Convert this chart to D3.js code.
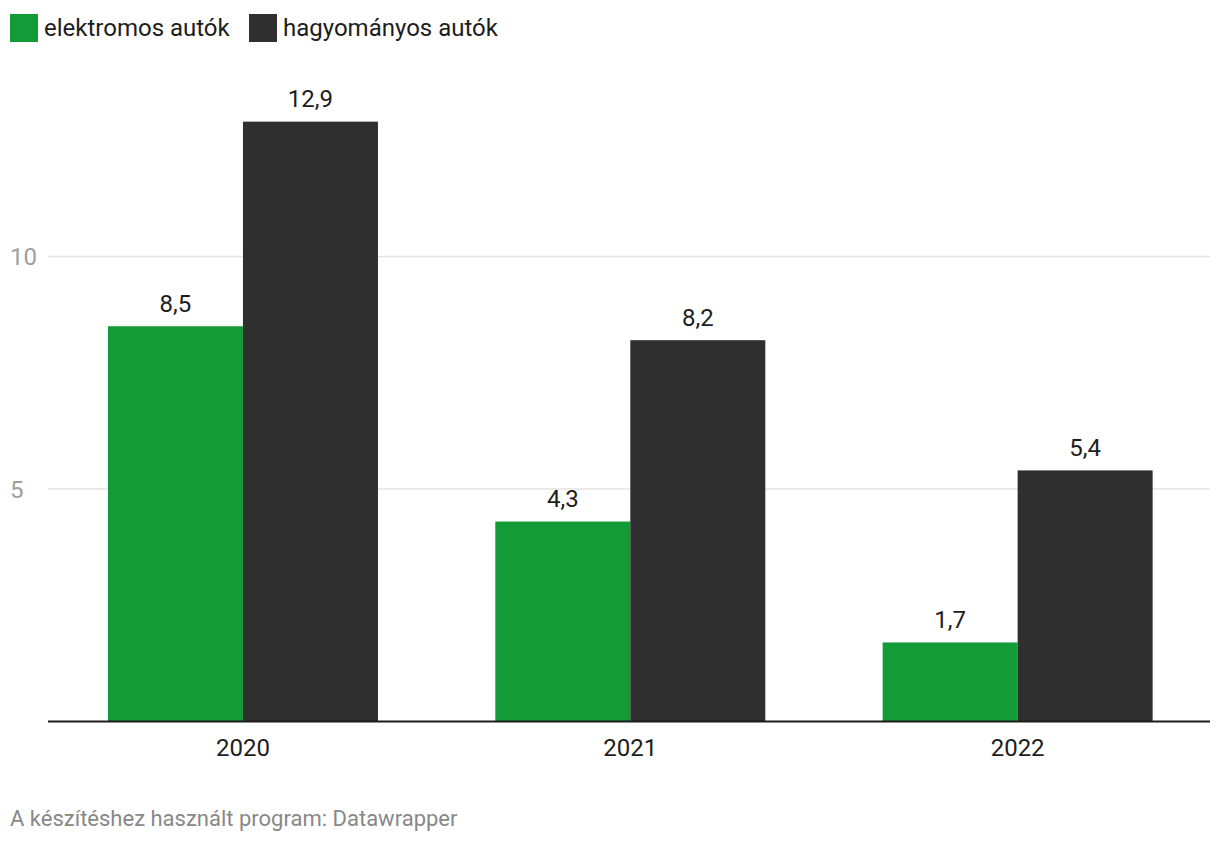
<!DOCTYPE html>
<html>
<head>
<meta charset="utf-8">
<script src="https://cdn.jsdelivr.net/npm/d3@7"></script>
<style>
  body { margin: 0; background: #fff; font-family: Roboto, sans-serif; }
</style>
</head>
<body>
<div id="chart"></div>
<script>
// data
var years = ["2020", "2021", "2022"];
var seriesNames = ["elektromos autók", "hagyományos autók"];
var electric = [8.5, 4.3, 1.7];
var conventional = [12.9, 8.2, 5.4];
var yTicks = [5, 10];
var colors = ["#129b36", "#2f2f2f"];
var footer = "A készítéshez használt program: Datawrapper";

var width = 1220, height = 844;
var left = 48, right = 1210, zeroY = 721.5, pxPerUnit = 46.5;

var svg = d3.select("#chart").append("svg")
    .attr("width", width)
    .attr("height", height);

var x0 = d3.scaleBand()
    .domain(years)
    .range([left + 1.3, right + 1.3]);

var x1 = d3.scaleBand()
    .domain([0, 1])
    .range([x0.bandwidth() / 2 - 135, x0.bandwidth() / 2 + 135]);

var y = d3.scaleLinear()
    .domain([0, 10])
    .range([zeroY, zeroY - 10 * pxPerUnit]);

// gridlines
var grid = svg.append("g");
grid.selectAll("line")
    .data(yTicks)
  .enter().append("line")
    .attr("x1", left)
    .attr("x2", right)
    .attr("y1", function(d){ return y(d); })
    .attr("y2", function(d){ return y(d); })
    .attr("stroke", "#e3e3e3")
    .attr("stroke-width", 1.5);

grid.selectAll("text")
    .data(yTicks)
  .enter().append("text")
    .attr("x", 10)
    .attr("y", function(d){ return y(d) + 8.5; })
    .attr("fill", "#a0a0a0")
    .attr("font-size", 24)
    .text(function(d){ return d; });

// bars
var rows = years.map(function(yr, i){
  return { year: yr, values: [electric[i], conventional[i]] };
});

var groups = svg.selectAll(".grp")
    .data(rows)
  .enter().append("g")
    .attr("class", "grp")
    .attr("transform", function(d){ return "translate(" + x0(d.year) + ",0)"; });

groups.selectAll("rect")
    .data(function(d){ return d.values; })
  .enter().append("rect")
    .attr("x", function(d, i){ return x1(i); })
    .attr("width", x1.bandwidth())
    .attr("y", function(d){ return y(d); })
    .attr("height", function(d){ return zeroY - y(d); })
    .attr("fill", function(d, i){ return colors[i]; });

groups.selectAll("text")
    .data(function(d){ return d.values; })
  .enter().append("text")
    .attr("x", function(d, i){ return x1(i) + x1.bandwidth() / 2; })
    .attr("y", function(d){ return y(d) - 14.5; })
    .attr("text-anchor", "middle")
    .attr("fill", "#1d1d1d")
    .attr("font-size", 24)
    .text(function(d){ return String(d).replace(".", ","); });

// baseline
svg.append("line")
    .attr("x1", left)
    .attr("x2", right)
    .attr("y1", zeroY)
    .attr("y2", zeroY)
    .attr("stroke", "#1d1d1d")
    .attr("stroke-width", 2);

// x axis labels
svg.append("g").selectAll("text")
    .data(years)
  .enter().append("text")
    .attr("x", function(d){ return x0(d) + x0.bandwidth() / 2; })
    .attr("y", 755.5)
    .attr("text-anchor", "middle")
    .attr("fill", "#1d1d1d")
    .attr("font-size", 24)
    .text(function(d){ return d; });

// legend
var legendX = [10, 249];
var legend = svg.append("g").selectAll("g")
    .data(seriesNames)
  .enter().append("g")
    .attr("transform", function(d, i){ return "translate(" + legendX[i] + ",14)"; });

legend.append("rect")
    .attr("width", 28)
    .attr("height", 28)
    .attr("fill", function(d, i){ return colors[i]; });

legend.append("text")
    .attr("x", 34)
    .attr("y", 21.5)
    .attr("fill", "#1d1d1d")
    .attr("font-size", 24)
    .text(function(d){ return d; });

// footer
svg.append("text")
    .attr("x", 10)
    .attr("y", 826)
    .attr("fill", "#888")
    .attr("font-size", 22)
    .text(footer);
</script>
</body>
</html>
